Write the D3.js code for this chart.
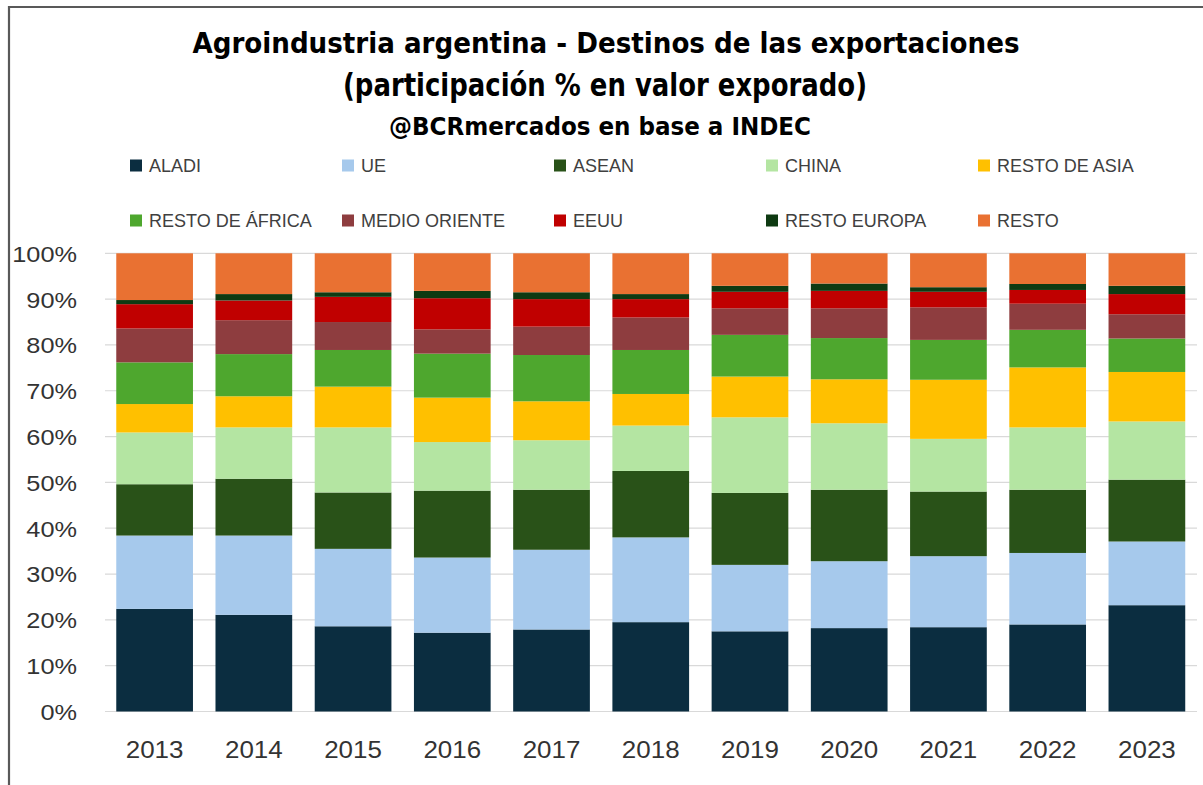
<!DOCTYPE html>
<html>
<head>
<meta charset="utf-8">
<script src="https://cdn.jsdelivr.net/npm/d3@7"></script>
<style>
  body { margin: 0; background: #fff; }
  svg { display: block; }
</style>
</head>
<body>
<svg id="chart" width="1203" height="785"></svg>
<script>
// datos (% del valor exportado)
const years = ["2013", "2014", "2015", "2016", "2017", "2018", "2019", "2020", "2021", "2022", "2023"];
const seriesNames = ["ALADI", "UE", "ASEAN", "CHINA", "RESTO DE ASIA", "RESTO DE ÁFRICA", "MEDIO ORIENTE", "EEUU", "RESTO EUROPA", "RESTO"];
const aladi        = [22.4, 21.1, 18.6, 17.2, 17.9, 19.5, 17.5, 18.2, 18.4, 19.0, 23.2];
const ue           = [16.0, 17.3, 16.9, 16.4, 17.4, 18.5, 14.5, 14.6, 15.5, 15.6, 13.9];
const asean        = [11.2, 12.4, 12.3, 14.6, 13.1, 14.5, 15.7, 15.6, 14.1, 13.8, 13.5];
const china        = [11.3, 11.2, 14.2, 10.6, 10.8,  9.9, 16.5, 14.5, 11.5, 13.6, 12.7];
const restoAsia    = [ 6.2,  6.8,  8.9,  9.7,  8.5,  6.9,  8.9,  9.6, 12.9, 13.1, 10.8];
const restoAfrica  = [ 9.1,  9.2,  8.0,  9.6, 10.1,  9.6,  9.1,  9.0,  8.7,  8.2,  7.3];
const medioOriente = [ 7.4,  7.4,  6.1,  5.3,  6.2,  7.1,  5.8,  6.5,  7.1,  5.7,  5.3];
const eeuu         = [ 5.3,  4.3,  5.5,  6.8,  6.0,  4.0,  3.6,  3.8,  3.4,  3.0,  4.4];
const restoEuropa  = [ 0.9,  1.4,  1.0,  1.6,  1.5,  1.1,  1.3,  1.6,  1.0,  1.3,  1.8];
const resto        = [10.2,  8.9,  8.5,  8.2,  8.5,  8.9,  7.1,  6.6,  7.4,  6.7,  7.1];
const yTicks = [0, 0.1, 0.2, 0.3, 0.4, 0.5, 0.6, 0.7, 0.8, 0.9, 1];

const colors = ["#0b2d40", "#a6c9ec", "#295218", "#b4e5a2", "#ffc000", "#4ea72e", "#8e3d3f", "#c00000", "#0e3a12", "#e97132"];

const allSeries = [aladi, ue, asean, china, restoAsia, restoAfrica, medioOriente, eeuu, restoEuropa, resto];
const table = years.map(function(y, i) {
  let row = { year: y };
  seriesNames.forEach(function(n, k) { row[n] = allSeries[k][i] / 100; });
  return row;
});

const svg = d3.select("#chart");

// marco
svg.append("path")
  .attr("d", "M9,785 V7 H1203")
  .attr("fill", "none")
  .attr("stroke", "#595959")
  .attr("stroke-width", 2.2);

const x = d3.scaleBand()
  .domain(years)
  .range([105, 1196.5])
  .paddingInner(0.227)
  .paddingOuter(0.1135);

const y = d3.scaleLinear()
  .domain([0, 1])
  .range([711.5, 253.3]);

// lineas de grilla
svg.append("g")
  .selectAll("line")
  .data(yTicks)
  .join("line")
  .attr("x1", 105)
  .attr("x2", 1197)
  .attr("y1", d => y(d))
  .attr("y2", d => y(d))
  .attr("stroke", "#d9d9d9")
  .attr("stroke-width", 1.2);

const stack = d3.stack().keys(seriesNames);
const stacked = stack(table);

svg.append("g")
  .selectAll("g")
  .data(stacked)
  .join("g")
  .attr("fill", (d, i) => colors[i])
  .selectAll("rect")
  .data(d => d)
  .join("rect")
  .attr("x", d => x(d.data.year))
  .attr("width", x.bandwidth())
  .attr("y", d => y(d[1]))
  .attr("height", d => y(d[0]) - y(d[1]));

// eje y
const yAxis = svg.append("g")
  .attr("transform", "translate(77,0)")
  .call(d3.axisLeft(y).tickValues(yTicks).tickFormat(d3.format(".0%")).tickSize(0).tickPadding(0));
yAxis.select(".domain").remove();
yAxis.selectAll("text")
  .attr("font-family", "Liberation Sans, Arial, sans-serif")
  .attr("font-size", 22)
  .attr("fill", "#333")
  .attr("dy", "0.36em");

// eje x
const xAxis = svg.append("g")
  .attr("transform", "translate(0,711.5)")
  .call(d3.axisBottom(x).tickSize(0).tickPadding(0));
xAxis.select(".domain").remove();
xAxis.selectAll("text")
  .attr("font-family", "Liberation Sans, Arial, sans-serif")
  .attr("font-size", 24.5)
  .attr("fill", "#333")
  .attr("dy", 0)
  .attr("y", 46.5);

// estirar un poco los textos de los ejes como en el original
yAxis.selectAll("text").each(function() {
  let w = this.getComputedTextLength();
  d3.select(this).attr("textLength", w * 1.15).attr("lengthAdjust", "spacingAndGlyphs");
});
xAxis.selectAll("text").each(function() {
  let w = this.getComputedTextLength();
  d3.select(this).attr("textLength", w * 1.06).attr("lengthAdjust", "spacingAndGlyphs");
});

// titulos
const titles = [
  { t: "Agroindustria argentina - Destinos de las exportaciones", cx: 606, by: 53, fs: 28, w: 827 },
  { t: "(participación % en valor exporado)", cx: 605, by: 96, fs: 32, w: 524 },
  { t: "@BCRmercados en base a INDEC", cx: 600, by: 135, fs: 25, w: 422 }
];
svg.append("g")
  .selectAll("text")
  .data(titles)
  .join("text")
  .attr("x", d => d.cx)
  .attr("y", d => d.by)
  .attr("text-anchor", "middle")
  .attr("font-family", "Liberation Sans Narrow, DejaVu Sans Condensed, Roboto Condensed, Arial Narrow, sans-serif")
  .attr("font-weight", "bold")
  .attr("font-size", d => d.fs)
  .attr("fill", "#000")
  .attr("textLength", d => d.w)
  .attr("lengthAdjust", "spacingAndGlyphs")
  .text(d => d.t);

// leyenda
const legend = svg.append("g")
  .selectAll("g")
  .data(seriesNames)
  .join("g")
  .attr("transform", (d, i) => "translate(" + (130 + (i % 5) * 212) + "," + (i < 5 ? 172 : 227) + ")");

legend.append("rect")
  .attr("x", 0)
  .attr("y", -12.5)
  .attr("width", 12)
  .attr("height", 12)
  .attr("fill", (d, i) => colors[i]);

legend.append("text")
  .attr("x", 19)
  .attr("y", 0)
  .attr("font-family", "Liberation Sans, Arial, sans-serif")
  .attr("font-size", 18)
  .attr("fill", "#404040")
  .text(d => d);
</script>
</body>
</html>
